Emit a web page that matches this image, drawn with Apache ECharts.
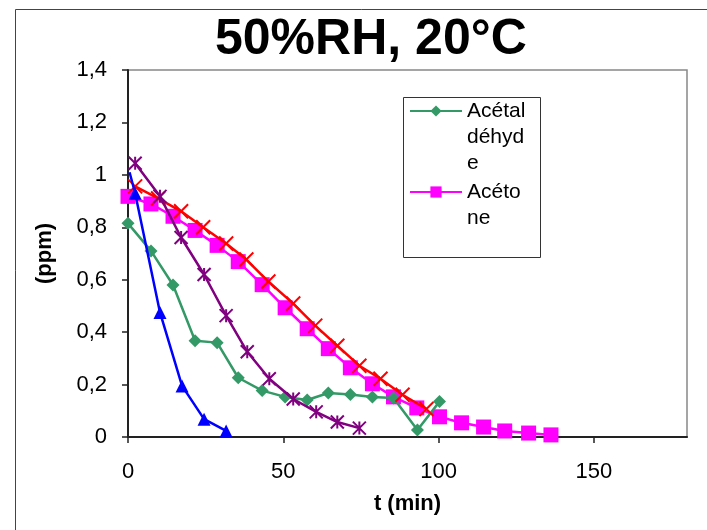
<!DOCTYPE html>
<html><head><meta charset="utf-8">
<script src="https://cdn.jsdelivr.net/npm/echarts@6/dist/echarts.min.js"></script>
<style>html,body{margin:0;padding:0;background:#fff}#c{width:707px;height:530px}</style>
</head><body><div id="c"></div>
<script>
// ---- data ----
const titleText = '50%RH, 20°C';
const xAxisName = 't (min)';
const yAxisName = '(ppm)';
const legendNames = ['Acétaldéhyde', 'Acétone'];
const legendLines = [['Acétal', 'déhyd', 'e'], ['Acéto', 'ne']];

const acetaldehydeT = [0, 7.4, 14.5, 21.6, 28.7, 35.5, 43.2, 50.6, 57.7, 64.5, 71.6, 78.7, 85.5, 93.2, 100.3];
const acetaldehydeV = [0.815, 0.71, 0.58, 0.367, 0.36, 0.226, 0.177, 0.153, 0.141, 0.168, 0.162, 0.153, 0.149, 0.027, 0.135];

const acetoneT = [0, 7.4, 14.5, 21.6, 28.7, 35.5, 43.2, 50.6, 57.7, 64.5, 71.6, 78.7, 85.5, 93.0, 100.3, 107.4, 114.5, 121.3, 129.0, 136.2];
const acetoneV = [0.918, 0.889, 0.842, 0.788, 0.731, 0.669, 0.581, 0.493, 0.413, 0.337, 0.264, 0.203, 0.153, 0.111, 0.077, 0.054, 0.038, 0.023, 0.015, 0.008];

const redT = [2.3, 9.7, 17.1, 24.2, 31.6, 38.1, 45.2, 53.2, 60.3, 67.4, 74.5, 81.3, 88.4, 96.1];
const redV = [0.956, 0.91, 0.861, 0.80, 0.738, 0.677, 0.593, 0.509, 0.425, 0.348, 0.272, 0.222, 0.161, 0.107];

const purpleT = [2.3, 10.3, 17.1, 24.5, 31.6, 38.4, 45.5, 53.2, 60.6, 67.4, 74.5];
const purpleV = [1.044, 0.918, 0.761, 0.62, 0.463, 0.325, 0.222, 0.145, 0.096, 0.057, 0.034];

const blueT = [0.5, 2.3, 10.3, 17.4, 24.5, 31.6];
const blueV = [1.01, 0.93, 0.475, 0.195, 0.068, 0.023];
const blueMarkerShown = [false, true, true, true, true, true];

// ---- build ----
const pairs = (ts, vs) => ts.map((t, i) => [t, vs[i]]);
const FONT = 'Liberation Sans, Arial, sans-serif';
const LH = 26;
const crossPath = 'path://M0 0L10 10M10 0L0 10';
const starPath = 'path://M0 0L10 10M10 0L0 10M5 0L5 10';

const chart = echarts.init(document.getElementById('c'), null, {renderer: 'canvas'});
const blueData = pairs(blueT, blueV).map((p, i) => blueMarkerShown[i] ? p : {value: p, symbol: 'none'});

chart.setOption({
  animation: false,
  backgroundColor: '#fff',
  title: {
    text: titleText, left: 215, top: 15, padding: 0,
    textStyle: {fontFamily: FONT, fontSize: 50, fontWeight: 'bold', color: '#000'}
  },
  grid: {left: 128, right: 20, top: 70, bottom: 93, show: true, borderColor: '#888', borderWidth: 1.5, backgroundColor: '#fff'},
  legend: {
    orient: 'vertical', left: 409, top: 46, padding: 0, itemGap: -23,
    itemWidth: 52, itemHeight: 14,
    data: legendNames.map((n, i) => ({name: n, textStyle: {padding: [(legendLines[i].length - 1) * LH, 0, 0, 0]}})),
    formatter: name => legendLines[legendNames.indexOf(name)].map(s => '{a|' + s + '}').join('\n'),
    textStyle: {fontFamily: FONT, fontSize: 21, lineHeight: LH, color: '#000',
      rich: {a: {fontFamily: FONT, fontSize: 21, lineHeight: LH, color: '#000'}}}
  },
  graphic: [
    {type: 'rect', left: 401, top: 95, shape: {width: 137, height: 160}, style: {fill: 'none', stroke: '#333', lineWidth: 1}, z: 100},
    {type: 'rect', left: 13, top: 7, shape: {width: 760, height: 600}, style: {fill: 'none', stroke: '#444', lineWidth: 1}, z: 100}
  ],
  xAxis: {
    type: 'value', min: 0, max: 180, interval: 50,
    name: xAxisName, nameLocation: 'middle', nameGap: 56,
    nameTextStyle: {fontFamily: FONT, fontSize: 22, fontWeight: 'bold', color: '#000'},
    axisLine: {lineStyle: {color: '#222', width: 2}},
    axisTick: {length: 6, lineStyle: {color: '#222', width: 1.5}},
    axisLabel: {fontFamily: FONT, fontSize: 22, color: '#000', margin: 24, showMaxLabel: false},
    splitLine: {show: false}
  },
  yAxis: {
    type: 'value', min: 0, max: 1.4, interval: 0.2,
    name: yAxisName, nameLocation: 'middle', nameGap: 72, nameRotate: 90,
    nameTextStyle: {fontFamily: FONT, fontSize: 22, fontWeight: 'bold', color: '#000'},
    axisLine: {show: true, lineStyle: {color: '#222', width: 2}},
    axisTick: {show: true, length: 6, lineStyle: {color: '#222', width: 1.5}},
    axisLabel: {fontFamily: FONT, fontSize: 22, color: '#000', margin: 21,
      formatter: v => String(Math.round(v * 10) / 10).replace('.', ',')},
    splitLine: {show: false}
  },
  series: [
    {name: legendNames[1], type: 'line', data: pairs(acetoneT, acetoneV), z: 2,
      symbol: 'rect', symbolSize: 15, color: '#FF00FF',
      lineStyle: {color: '#FF00FF', width: 2.5}, itemStyle: {color: '#FF00FF'}},
    {name: legendNames[0], type: 'line', data: pairs(acetaldehydeT, acetaldehydeV), z: 3,
      symbol: 'diamond', symbolSize: 13, color: '#339966',
      lineStyle: {color: '#339966', width: 2.5}, itemStyle: {color: '#339966'}},
    {name: 'Série 3', type: 'line', data: pairs(redT, redV), z: 4,
      symbol: crossPath, symbolSize: 14, color: '#FF0000',
      lineStyle: {color: '#FF0000', width: 2.5}, itemStyle: {color: '#FF0000', borderColor: '#FF0000', borderWidth: 2}},
    {name: 'Série 4', type: 'line', data: pairs(purpleT, purpleV), z: 5,
      symbol: starPath, symbolSize: 13, color: '#800080',
      lineStyle: {color: '#800080', width: 2.5}, itemStyle: {color: '#800080', borderColor: '#800080', borderWidth: 2}},
    {name: 'Série 5', type: 'line', data: blueData, z: 6,
      symbol: 'triangle', symbolSize: 13, color: '#0000FF',
      lineStyle: {color: '#0000FF', width: 2.5}, itemStyle: {color: '#0000FF'}}
  ]
});
</script>
</body></html>
